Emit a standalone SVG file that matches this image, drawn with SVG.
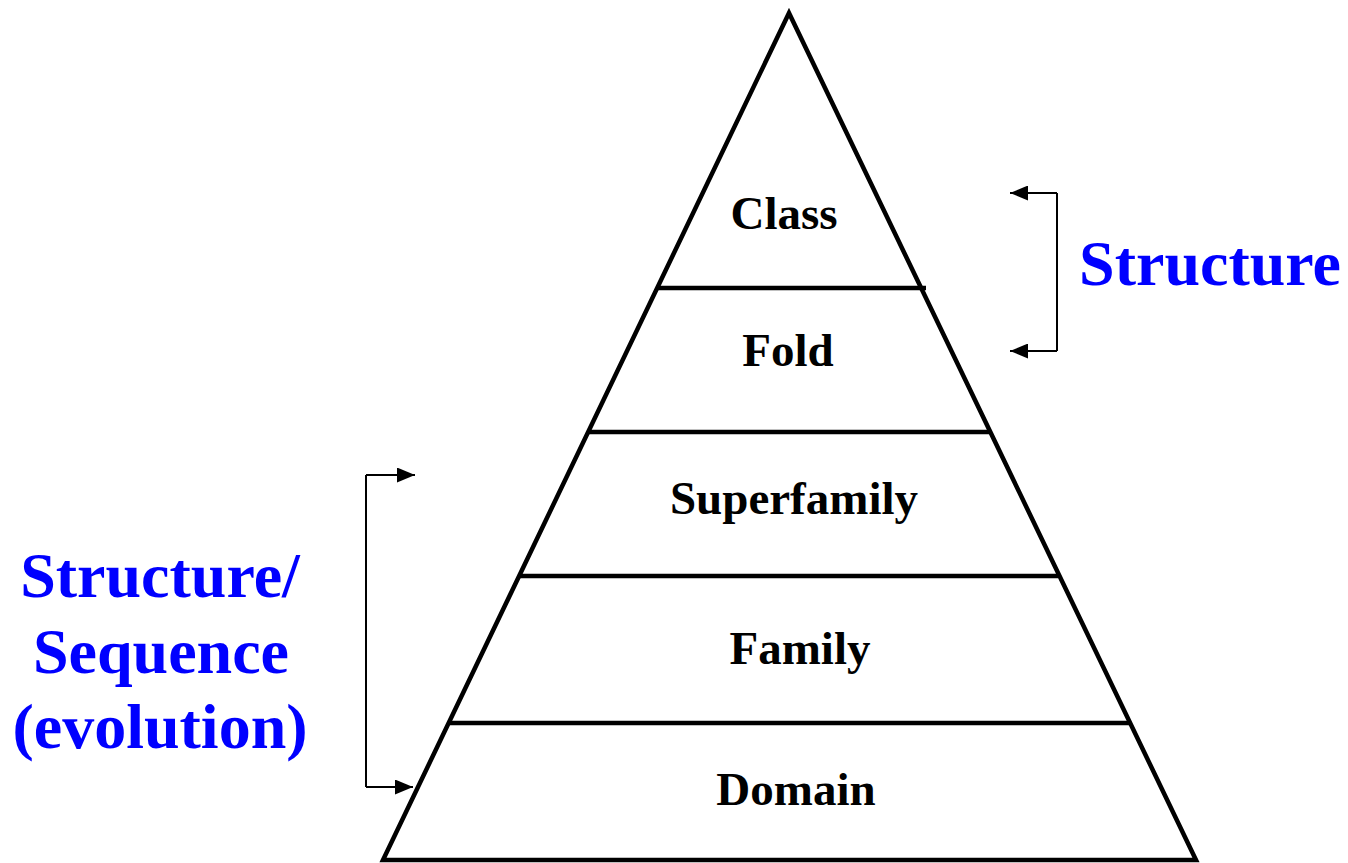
<svg xmlns="http://www.w3.org/2000/svg" width="1348" height="863" viewBox="0 0 1348 863">
<style>
.edge{fill:none;stroke:#000;stroke-width:4.5;stroke-linejoin:miter}
.lvl{font-family:"Liberation Serif","Times New Roman",serif;font-weight:bold;font-size:47px;fill:#000;text-anchor:middle}
.blue{font-family:"Liberation Serif","Times New Roman",serif;font-weight:bold;font-size:64px;fill:#0000FF;text-anchor:middle}
.br{fill:none;stroke:#000;stroke-width:2}
</style>
<defs>
<marker id="ah2" viewBox="0 0 18 15" refX="18" refY="7.5" markerWidth="18" markerHeight="15" markerUnits="userSpaceOnUse" orient="auto">
<path d="M0,0 L18,7.5 L0,15 Z" fill="#000"/>
</marker>
</defs>
<g id="pyramid">
<polygon class="edge" points="789,13 1196,860 383,860"/>
<line class="edge" x1="658" y1="288" x2="926" y2="288"/>
<line class="edge" x1="589" y1="432" x2="989" y2="432"/>
<line class="edge" x1="520" y1="576" x2="1058" y2="576"/>
<line class="edge" x1="450" y1="723" x2="1130" y2="723"/>
</g>
<g id="class"><text class="lvl" x="784" y="229">Class</text></g>
<g id="fold"><text class="lvl" x="788" y="366">Fold</text></g>
<g id="superfamily"><text class="lvl" x="794" y="514">Superfamily</text></g>
<g id="family"><text class="lvl" x="800" y="664">Family</text></g>
<g id="domain"><text class="lvl" x="796" y="805">Domain</text></g>
<g id="connectors">
<path class="br" d="M1057,193 L1057,351" />
<path class="br" d="M1057,193 L1010,193" marker-end="url(#ah2)"/>
<path class="br" d="M1057,351 L1010,351" marker-end="url(#ah2)"/>
<path class="br" d="M366,475 L366,787" />
<path class="br" d="M366,475 L415,475" marker-end="url(#ah2)"/>
<path class="br" d="M366,787 L413,787" marker-end="url(#ah2)"/>
</g>
<g id="structure-label"><text class="blue" x="1210" y="285">Structure</text></g>
<g id="seq-label">
<text class="blue" x="160" y="597">Structure/</text>
<text class="blue" x="161" y="673">Sequence</text>
<text class="blue" x="160" y="748">(evolution)</text>
</g>
</svg>
